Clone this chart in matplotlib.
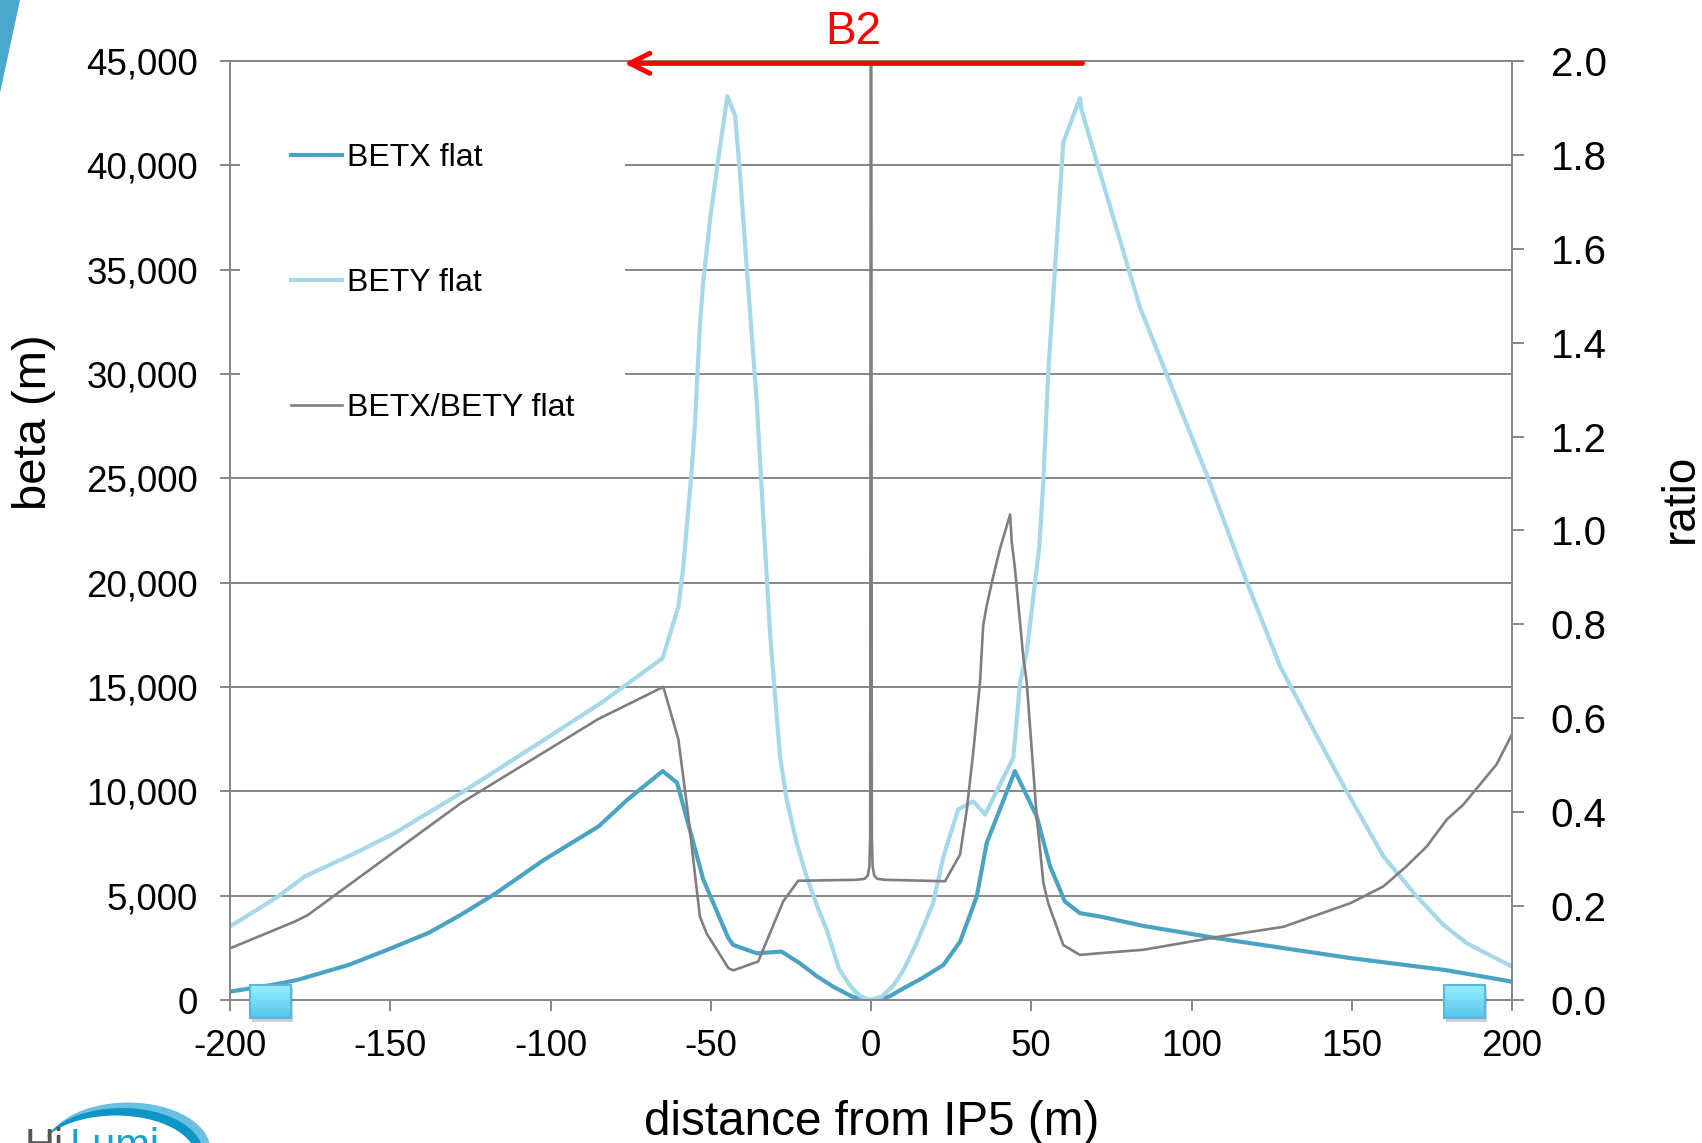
import numpy as np
import matplotlib
matplotlib.use("Agg")
import matplotlib.pyplot as plt
from matplotlib.patches import Rectangle, Polygon, Ellipse
from matplotlib.colors import LinearSegmentedColormap
from matplotlib.ticker import FuncFormatter, MultipleLocator

plt.rcParams['font.family'] = ['Liberation Sans', 'DejaVu Sans']
plt.rcParams['axes.unicode_minus'] = False

# values
betx_x = [-200, -187, -179, -163, -151, -138, -128, -117, -102, -85, -76, -65, -60.5, -52.3,
          -44.5, -43, -35.7, -27.9, -22.2, -17, -11.8, -6, -3, 0, 3, 6, 9.2, 16, 22.6, 27.8,
          33, 36.1, 40, 44.9, 51.7, 55.9, 60.5, 65.2, 71.5, 85, 108, 129, 150, 179, 200]
betx_y = [400, 720, 960, 1680, 2400, 3220, 4080, 5120, 6720, 8320, 9600, 10970, 10410, 5760,
          2960, 2640, 2240, 2320, 1760, 1150, 640, 170, 45, 0, 45, 190, 480, 1050, 1680, 2800,
          4960, 7530, 9050, 10970, 8800, 6400, 4720, 4160, 4000, 3550, 2960, 2480, 2000, 1440,
          880]

bety_x = [-200, -185, -176.7, -161, -148.6, -127.8, -101.8, -84.1, -65, -60.1, -58.6, -56,
          -54.9, -53.4, -52.3, -50.2, -47.6, -44.8, -42.4, -40.9, -38.3, -35.7, -33.3, -31.5,
          -28.4, -26.3, -23.2, -20.1, -16.8, -13.8, -10, -6.6, -3.3, 0, 3.3, 7, 10, 14.2,
          19.4, 22.6, 27.2, 31.9, 35.6, 44.4, 46.5, 48.6, 52.5, 53.8, 55.3, 57.4, 60, 65.2,
          65.7, 70.4, 83.9, 104.7, 117.2, 127.6, 139.1, 148.4, 159.9, 170.3, 178.6, 185.9,
          200]
bety_y = [3520, 4960, 5920, 7040, 8000, 9930, 12490, 14250, 16380, 18860, 20700, 25300,
          27680, 32280, 34490, 37430, 40370, 43310, 42390, 39630, 34120, 28800, 22300, 17580,
          11690, 9600, 7530, 5920, 4500, 3360, 1500, 700, 170, 0, 160, 700, 1400, 2720, 4640,
          6880, 9130, 9520, 8890, 11610, 15210, 16700, 21700, 24930, 30080, 35040, 41100,
          43220, 42660, 40190, 33200, 25200, 20050, 16010, 12650, 10000, 6880, 4960, 3600,
          2720, 1600]

ratio_x = [-200, -179.8, -175.7, -166.3, -150.7, -127.8, -85.2, -64.8, -60.1, -57, -53.4,
           -51.3, -44.5, -43, -35.2, -27.4, -22.7, -4.5, -2, -1, -0.5, -0.25, 0, 0.25, 0.5,
           1, 2, 4.5, 23.1, 27.8, 29.9, 32, 34, 35, 36.1, 38.2, 40.2, 43.4, 43.9, 44.9, 47.5,
           48.6, 51.7, 53.8, 55.3, 60, 65.2, 71.5, 85, 107.9, 128.7, 149.5, 159.9, 167.1,
           173.4, 179.6, 184.8, 190, 195.2, 200]
ratio_y = [0.110, 0.167, 0.181, 0.228, 0.306, 0.420, 0.598, 0.667, 0.555, 0.391, 0.178,
           0.142, 0.068, 0.063, 0.082, 0.210, 0.254, 0.256, 0.258, 0.265, 0.285, 0.35, 3.0,
           0.35, 0.285, 0.265, 0.258, 0.256, 0.253, 0.31, 0.406, 0.534, 0.676, 0.797, 0.84,
           0.904, 0.96, 1.034, 0.977, 0.92, 0.732, 0.676, 0.391, 0.249, 0.206, 0.117, 0.096,
           0.0997, 0.107, 0.134, 0.156, 0.206, 0.242, 0.285, 0.327, 0.384, 0.416, 0.459,
           0.502, 0.566]

marker_x = [-187.4, 185.3]
arrow_from, arrow_to = 66, -77
x_ticks = [-200, -150, -100, -50, 0, 50, 100, 150, 200]

GRID = '#878787'
C_BETX = '#4BA3C3'
C_BETY = '#A5D8E8'
C_RATIO = '#7F7F7F'

fig = plt.figure(figsize=(17.02, 11.43), dpi=100)
ax = fig.add_axes([230 / 1702, 1 - 1000 / 1143, 1282 / 1702, 939 / 1143])
ax2 = ax.twinx()

l1, = ax.plot(betx_x, betx_y, color=C_BETX, lw=3.0, label='BETX flat', solid_joinstyle='round')
l2, = ax.plot(bety_x, bety_y, color=C_BETY, lw=3.0, label='BETY flat', solid_joinstyle='round')
l3, = ax2.plot(ratio_x, ratio_y, color=C_RATIO, lw=1.9, label='BETX/BETY flat')

ax.set_xlim(-200, 200)
ax.set_ylim(0, 45000)
ax.set_xticks(x_ticks)
ax.yaxis.set_major_locator(MultipleLocator(5000))
ax.yaxis.set_major_formatter(FuncFormatter(lambda v, p: f'{int(v):,}'))
ax.yaxis.grid(True, color=GRID, lw=1.4)
ax.xaxis.grid(False)

for a in (ax, ax2):
    for s in a.spines.values():
        s.set_color(GRID)
        s.set_linewidth(1.4)

ax.tick_params(axis='y', direction='inout', length=14.4, width=1.4, color=GRID,
               labelsize=26.5, pad=15.8)
ax.tick_params(axis='x', direction='out', length=8, width=1.4, color=GRID,
               labelsize=26.5, pad=13)
ax2.tick_params(axis='y', direction='out', length=8.6, width=1.4, color=GRID,
                labelsize=29, pad=19.2)

ax.set_xlabel('distance from IP5 (m)', fontsize=34.3)
ax.xaxis.set_label_coords(0.5008, -0.1065)
ax.set_ylabel('beta (m)', fontsize=34)
ax.yaxis.set_label_coords(-0.1357, 0.6156)
ax2.set_ylabel('ratio', fontsize=33, rotation=90)
ax2.yaxis.set_label_coords(1.1147, 0.5346)

# light blue squares sitting on the axis
cmap = LinearSegmentedColormap.from_list('sq', ['#55C5EA', '#9AF0FF'])
grad = np.linspace(0, 1, 64).reshape(-1, 1)
w = 12.8
h = 0.0704
for mx in marker_x:
    y0 = -0.0032 - h / 2
    ax2.add_patch(Rectangle((mx - w / 2 + 0.6, y0 - 0.008), w, h, facecolor='#000000',
                            alpha=0.18, edgecolor='none', clip_on=False, zorder=5))
    ax2.imshow(grad, extent=[mx - w / 2, mx + w / 2, y0, y0 + h], origin='lower',
               cmap=cmap, aspect='auto', clip_on=False, zorder=6)
    ax2.add_patch(Rectangle((mx - w / 2, y0), w, h, facecolor='none', edgecolor='#5BB8DC',
                            lw=1.5, clip_on=False, zorder=7))

ax2.set_ylim(0, 2.0)
ax2.set_xlim(-200, 200)
ax2.yaxis.set_major_locator(MultipleLocator(0.2))
ax2.yaxis.set_major_formatter(FuncFormatter(lambda v, p: f'{v:.1f}'))

# B2 arrow
ax2.annotate('', xy=(arrow_to, 0.9975), xytext=(arrow_from, 0.9975),
             xycoords=ax2.get_xaxis_transform(), textcoords=ax2.get_xaxis_transform(),
             arrowprops=dict(arrowstyle='->,head_length=14.4,head_width=7.2',
                             mutation_scale=1, color='#FF0000', lw=3.6,
                             shrinkA=0, shrinkB=0), zorder=10)
ax2.text(-5.6, 1.0181, 'B2', transform=ax2.get_xaxis_transform(), color='#FF0000',
         fontsize=33, ha='center', va='baseline')

leg = ax2.legend(handles=[l1, l2, l3], loc='upper left',
                 bbox_to_anchor=(240 / 1702, 1 - 92 / 1143), bbox_transform=fig.transFigure,
                 fontsize=23, frameon=True, fancybox=False, framealpha=1,
                 edgecolor='none', facecolor='white', borderpad=1.6, borderaxespad=0,
                 handlelength=1.6, handletextpad=0.15, labelspacing=2.98)
leg.set_zorder(4)

# slide decorations
fig.patches.append(Polygon([[0, 1], [20 / 1702, 1], [0, 1 - 93 / 1143]],
                           closed=True, transform=fig.transFigure,
                           facecolor='#4AA8CC', edgecolor='none'))
tr = fig.dpi_scale_trans
fig.patches.append(Ellipse((1.28, -0.07), 1.65, 0.95, transform=tr,
                           facecolor='#6CC0DF', edgecolor='none'))
fig.patches.append(Ellipse((1.22, -0.10), 1.62, 0.9, transform=tr,
                           facecolor='#0A96C6', edgecolor='none'))
fig.patches.append(Ellipse((1.16, -0.15), 1.6, 0.85, transform=tr,
                           facecolor='white', edgecolor='none'))
fig.text(0.25, -0.15, 'Hi', transform=tr, fontsize=30, color='#555555', va='baseline')
fig.text(0.70, -0.15, 'Lumi', transform=tr, fontsize=30, color='#1BA1D0', va='baseline')

fig.savefig('out.png', dpi=100)
